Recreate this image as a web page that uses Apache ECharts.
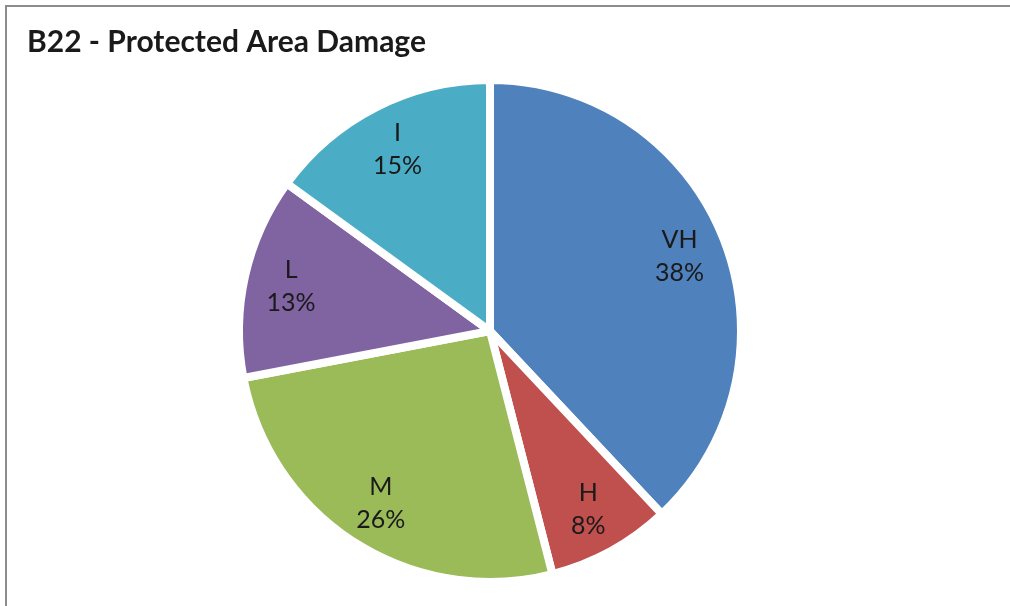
<!DOCTYPE html>
<html>
<head>
<meta charset="utf-8">
<script src="https://cdn.jsdelivr.net/npm/echarts@6/dist/echarts.min.js"></script>
<style>
  html, body { margin: 0; padding: 0; background: #ffffff; }
  #frame { position: absolute; left: 5px; top: 5px; width: 1010px; height: 610px;
           border-left: 2px solid #8c8c8c; border-top: 2px solid #8c8c8c; box-sizing: border-box; }
  #chart { position: absolute; left: 0; top: 0; width: 1010px; height: 606px; }
</style>
</head>
<body>
<div id="frame"></div>
<div id="chart"></div>
<script>
// Damage classes and their shares (percent)
const categories = ['VH', 'H', 'M', 'L', 'I'];
const shares = [38, 8, 26, 13, 15];
const colors = ['#4F81BD', '#C0504D', '#9BBB59', '#8064A2', '#4BACC6'];
const titleText = 'B22 - Protected Area Damage';

const pieData = categories.map((name, i) => ({
  name: name,
  value: shares[i],
  itemStyle: { color: colors[i] }
}));

const chart = echarts.init(document.getElementById('chart'));
const center = [490, 331];
const R = 251;

chart.setOption({
  animation: false,
  title: {
    text: titleText,
    left: 22,
    top: 22,
    textStyle: { fontFamily: 'Lato', fontWeight: 'bold', fontSize: 30, color: '#1a1a1a' }
  },
  series: [
    {
      // filled wedges separated by white gaps
      type: 'pie',
      center: center,
      radius: [0, R],
      startAngle: 90,
      clockwise: true,
      silent: true,
      label: { show: false },
      labelLine: { show: false },
      itemStyle: { borderColor: '#ffffff', borderWidth: 8 },
      data: pieData
    },
    {
      // transparent ring that places the labels out toward the rim
      type: 'pie',
      center: center,
      radius: [0.6 * R, R],
      startAngle: 90,
      clockwise: true,
      silent: true,
      itemStyle: { color: 'rgba(0,0,0,0)' },
      label: {
        show: true,
        position: 'inside',
        formatter: p => p.name + '\n' + p.value + '%',
        fontFamily: 'Lato',
        fontSize: 25,
        lineHeight: 33,
        color: '#1a1a1a'
      },
      labelLine: { show: false },
      data: pieData.map(d => ({ name: d.name, value: d.value }))
    }
  ]
});
</script>
</body>
</html>
